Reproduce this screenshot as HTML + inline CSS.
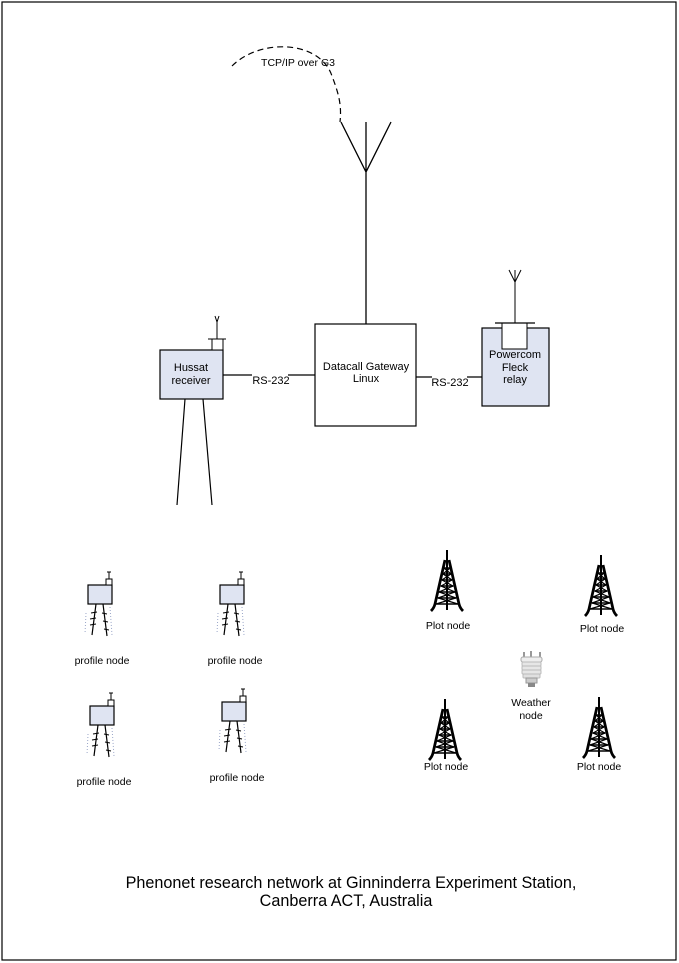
<!DOCTYPE html>
<html><head><meta charset="utf-8"><style>
html,body{margin:0;padding:0;background:#fff;}
svg{display:block;}
text{font-family:"Liberation Sans",sans-serif;fill:#000;}
</style></head><body>
<svg width="679" height="963" viewBox="0 0 679 963" xmlns="http://www.w3.org/2000/svg">
<defs>
<g id="tower" stroke="#000" fill="none">
  <path d="M0,0 L0,10" stroke-width="2"/>
  <path d="M-2,10 L-12,54 Q-13,58 -16,61 M2,10 L12,54 Q13,58 16,61" stroke-width="2.8"/>
  <path d="M0,10 L0,60" stroke-width="2"/>
  <path d="M-3,18 L3,18 M-4,24 L4,24 M-5,30 L5,30 M-6,36 L6,36 M-8,42 L8,42 M-9,48 L9,48 M-11,54 L11,54" stroke-width="1.5"/>
  <path d="M-3,18 L4,24 L-5,30 L6,36 L-8,42 L9,48 L-11,54 M3,18 L-4,24 L5,30 L-6,36 L8,42 L-9,48 L11,54" stroke-width="1.2"/>
</g>
<g id="pnode" stroke="#000" fill="none">
  <rect x="0" y="6" width="24" height="19" fill="#dfe4f2" stroke-width="1.2"/>
  <rect x="18" y="0" width="6" height="6" fill="#fff"/>
  <path d="M21,0 L21,-7 M19,-7 L23,-7"/>
  <path d="M8,25 L4,56 M15,25 L19,57" stroke-width="1.2"/>
  <path d="M3,34 L9,33 M2,40 L8,39 M2,46 L8,45 M14,34 L19,35 M15,42 L20,43 M16,50 L21,51"/>
  <path d="M-2,34 L-3,55 M22,28 L24,56" stroke="#9aa6c8" stroke-dasharray="1,2"/>
</g>
</defs>
<rect x="2" y="2" width="674" height="958" fill="none" stroke="#000" stroke-width="1.2"/>

<path d="M232,66 C260,38 320,40 332,76 C338,92 342,104 340,122" fill="none" stroke="#000" stroke-width="1.2" stroke-dasharray="6,4"/>
<text x="298" y="66" font-size="10.5" text-anchor="middle">TCP/IP over G3</text>
<path d="M341,122 L366,172 L391,122 M366,122 L366,324" stroke="#000" stroke-width="1.3" fill="none"/>

<rect x="315" y="324" width="101" height="102" fill="#fff" stroke="#000" stroke-width="1.2"/>
<text x="366" y="370" font-size="11" text-anchor="middle">Datacall Gateway</text>
<text x="366" y="382" font-size="11" text-anchor="middle">Linux</text>

<rect x="160" y="350" width="63" height="49" fill="#dfe4f2" stroke="#000" stroke-width="1.2"/>
<text x="191" y="371" font-size="11" text-anchor="middle">Hussat</text>
<text x="191" y="384" font-size="11" text-anchor="middle">receiver</text>
<rect x="212" y="339" width="11" height="11" fill="#fff" stroke="#000"/>
<path d="M208,339 L226,339 M217,339 L217,320 M215,316 L217,322 L219,316" stroke="#000" fill="none"/>
<path d="M185,399 L177,505 M203,399 L212,505" stroke="#000" stroke-width="1.2" fill="none"/>
<path d="M223,375 L252,375 M288,375 L315,375" stroke="#000" stroke-width="1.2"/>
<text x="271" y="384" font-size="11" text-anchor="middle">RS-232</text>

<rect x="482" y="328" width="67" height="78" fill="#dfe4f2" stroke="#000" stroke-width="1.2"/>
<rect x="502" y="323" width="25" height="26" fill="#fff" stroke="#000"/>
<path d="M495,323 L535,323" stroke="#000" stroke-width="1.2"/>
<path d="M515,323 L515,282 M509,270 L515,282 L521,270 M515,270 L515,282" stroke="#000" fill="none"/>
<text x="515" y="358" font-size="11" text-anchor="middle">Powercom</text>
<text x="515" y="371" font-size="11" text-anchor="middle">Fleck</text>
<text x="515" y="383" font-size="11" text-anchor="middle">relay</text>
<path d="M416,377 L432,377 M467,377 L482,377" stroke="#000" stroke-width="1.2"/>
<text x="450" y="386" font-size="11" text-anchor="middle">RS-232</text>

<use href="#pnode" x="88" y="579"/>
<use href="#pnode" x="220" y="579"/>
<use href="#pnode" x="90" y="700"/>
<use href="#pnode" x="222" y="696"/>
<g font-size="10.5" text-anchor="middle">
<text x="102" y="664">profile node</text>
<text x="235" y="664">profile node</text>
<text x="104" y="785">profile node</text>
<text x="237" y="781">profile node</text>
</g>

<use href="#tower" x="447" y="550"/>
<use href="#tower" x="601" y="555"/>
<use href="#tower" x="445" y="699"/>
<use href="#tower" x="599" y="697"/>
<g font-size="10.5" text-anchor="middle">
<text x="448" y="629">Plot node</text>
<text x="602" y="632">Plot node</text>
<text x="446" y="770">Plot node</text>
<text x="599" y="770">Plot node</text>
<text x="531" y="706">Weather</text>
<text x="531" y="719">node</text>
</g>
<g>
<path d="M524,652 L524,658 M531,651 L531,658 M540,652 L540,658" stroke="#555" stroke-width="1.2"/>
<rect x="521" y="657" width="21" height="5" rx="2" fill="#eee" stroke="#aaa"/>
<rect x="522" y="662" width="19" height="4" rx="1" fill="#e6e6e6" stroke="#bbb"/>
<rect x="522" y="666" width="19" height="4" rx="1" fill="#e6e6e6" stroke="#bbb"/>
<rect x="522" y="670" width="19" height="4" rx="1" fill="#e6e6e6" stroke="#bbb"/>
<rect x="523" y="674" width="17" height="4" rx="1" fill="#e0e0e0" stroke="#bbb"/>
<rect x="526" y="678" width="11" height="5" fill="#ccc" stroke="#999"/>
<rect x="528" y="683" width="7" height="4" fill="#888"/>
</g>

<g font-size="16.2" text-anchor="middle">
<text x="351" y="888">Phenonet research network at Ginninderra Experiment Station,</text>
<text x="346" y="906">Canberra ACT, Australia</text>
</g>
</svg>
</body></html>
